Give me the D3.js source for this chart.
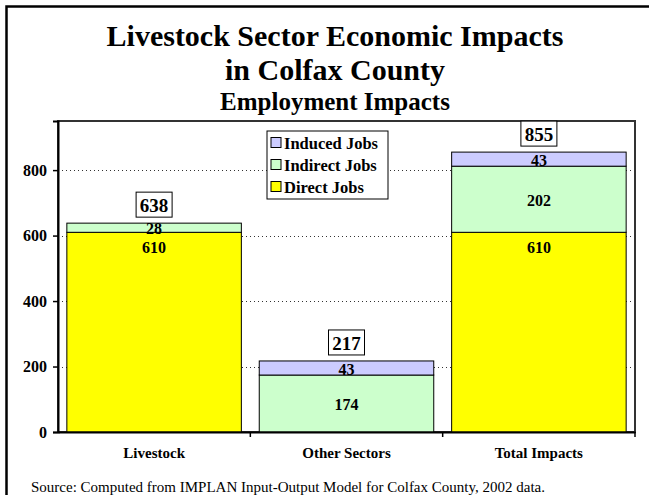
<!DOCTYPE html>
<html><head><meta charset="utf-8">
<script src="https://cdn.jsdelivr.net/npm/d3@7/dist/d3.min.js"></script>
<style>body{margin:0;background:#fff}svg{display:block}</style>
</head><body><svg id="c" width="649" height="495" font-family="Liberation Serif"></svg>
<script>
const categories = ["Livestock", "Other Sectors", "Total Impacts"];
const seriesNames = ["Direct Jobs", "Indirect Jobs", "Induced Jobs"];
const direct = [610, 0, 610];
const indirect = [28, 174, 202];
const induced = [0, 43, 43];
const totals = [638, 217, 855];
const yTicks = [0, 200, 400, 600, 800];
const colors = ["#FFFF00", "#CCFFCC", "#CCCCFF"];
const titleLines = ["Livestock Sector Economic Impacts", "in Colfax County"];
const subtitle = "Employment Impacts";
const source = "Source: Computed from IMPLAN Input-Output Model for Colfax County, 2002 data.";

const FF = "Liberation Serif";
const svg = d3.select("#c");
const M = {l: 58, r: 635, t: 121, b: 432};

// outer frame (right side runs past the page edge)
svg.append("rect").attr("x", 6.5).attr("y", 6.5).attr("width", 700).attr("height", 520)
  .attr("fill", "none").attr("stroke", "#000").attr("stroke-width", 2.5);

// titles
svg.append("text").attr("x", 335).attr("y", 46).attr("text-anchor", "middle").attr("font-family", FF)
  .attr("font-size", 30).attr("font-weight", "bold").text(titleLines[0]);
svg.append("text").attr("x", 335).attr("y", 80).attr("text-anchor", "middle").attr("font-family", FF)
  .attr("font-size", 30).attr("font-weight", "bold").text(titleLines[1]);
svg.append("text").attr("x", 335).attr("y", 110).attr("text-anchor", "middle").attr("font-family", FF)
  .attr("font-size", 25).attr("font-weight", "bold").text(subtitle);

const x = d3.scaleBand().domain(categories).range([M.l, M.r]).paddingInner(0.093).paddingOuter(0.046);
const xb = d3.scaleBand().domain(categories).range([M.l, M.r]);
const y = d3.scaleLinear().domain([0, 950]).range([M.b, M.t]);

// plot frame
svg.append("rect").attr("x", M.l).attr("y", M.t).attr("width", M.r - M.l).attr("height", M.b - M.t)
  .attr("fill", "none").attr("stroke", "#333").attr("stroke-width", 2);

// gridlines
svg.append("g").selectAll("line").data(yTicks.filter(d => d > 0)).join("line")
  .attr("x1", M.l).attr("x2", M.r).attr("y1", d => Math.round(y(d)) + 0.5).attr("y2", d => Math.round(y(d)) + 0.5)
  .attr("stroke", "#333").attr("stroke-width", 1).attr("stroke-dasharray", "1,3");

// stacked bars
const table = categories.map((c, i) => ({cat: c, "Direct Jobs": direct[i], "Indirect Jobs": indirect[i], "Induced Jobs": induced[i]}));
const stack = d3.stack().keys(seriesNames)(table);
const g = svg.append("g");
stack.forEach((s, si) => {
  s.forEach((d, i) => {
    const v = d[1] - d[0];
    if (v <= 0) return;
    g.append("rect").attr("x", x(categories[i])).attr("width", x.bandwidth())
      .attr("y", y(d[1])).attr("height", y(d[0]) - y(d[1]))
      .attr("fill", colors[si]).attr("stroke", "#000").attr("stroke-width", 1);
  });
});
// segment labels
stack.forEach((s, si) => {
  s.forEach((d, i) => {
    const v = d[1] - d[0];
    if (v <= 0) return;
    const cx = x(categories[i]) + x.bandwidth() / 2;
    const cy = si === 0 ? y(d[1]) + 15 : (y(d[0]) + y(d[1])) / 2 + 1;
    g.append("text").attr("x", cx).attr("y", cy).attr("dy", "0.35em").attr("text-anchor", "middle")
      .attr("font-family", FF).attr("font-size", 16).attr("font-weight", "bold").text(v);
  });
});

// totals boxes
categories.forEach((c, i) => {
  const cx = x(c) + x.bandwidth() / 2;
  const by = y(totals[i]) - 6;
  g.append("rect").attr("x", cx - 18).attr("y", by - 25).attr("width", 36).attr("height", 25)
    .attr("fill", "#fff").attr("stroke", "#000").attr("stroke-width", 1);
  g.append("text").attr("x", cx).attr("y", by - 12).attr("dy", "0.35em").attr("text-anchor", "middle")
    .attr("font-family", FF).attr("font-size", 19).attr("font-weight", "bold").text(totals[i]);
});

// y axis
const ya = svg.append("g").attr("transform", `translate(${M.l},0)`)
  .call(d3.axisLeft(y).tickValues(yTicks).tickSize(5).tickPadding(6));
ya.attr("font-family", FF);
ya.select(".domain").attr("stroke", "#000").attr("stroke-width", 2);
ya.selectAll(".tick line").attr("stroke", "#000").attr("stroke-width", 1.5);
ya.selectAll("text").attr("font-size", 16).attr("font-weight", "bold")
  .attr("font-family", FF).attr("fill", "#000");

// x axis
const xa = svg.append("g").attr("transform", `translate(0,${M.b})`)
  .call(d3.axisBottom(xb).tickSize(0).tickPadding(15));
xa.attr("font-family", FF);
xa.select(".domain").attr("stroke", "#000").attr("stroke-width", 2);
xa.selectAll("text").attr("font-size", 15).attr("font-weight", "bold")
  .attr("font-family", FF).attr("fill", "#000");
svg.append("g").selectAll("line").data(categories.slice(1).concat([null])).join("line")
  .attr("x1", (d, i) => i < 2 ? xb(d) : M.r).attr("x2", (d, i) => i < 2 ? xb(d) : M.r)
  .attr("y1", M.b).attr("y2", M.b + 5).attr("stroke", "#000").attr("stroke-width", 1.5);

// legend
const lg = svg.append("g");
lg.append("rect").attr("x", 267).attr("y", 131).attr("width", 121).attr("height", 68)
  .attr("fill", "#fff").attr("stroke", "#000").attr("stroke-width", 1);
const legOrder = [2, 1, 0];
legOrder.forEach((si, k) => {
  const ly = 143 + k * 22;
  lg.append("rect").attr("x", 271).attr("y", ly - 5.5).attr("width", 10).attr("height", 10)
    .attr("fill", colors[si]).attr("stroke", "#000").attr("stroke-width", 1);
  lg.append("text").attr("x", 284).attr("y", ly).attr("dy", "0.35em")
    .attr("font-family", FF).attr("font-size", 16.5).attr("font-weight", "bold").text(seriesNames[si]);
});

// source
svg.append("text").attr("x", 31).attr("y", 492).attr("font-family", FF).attr("font-size", 15).text(source);
</script></body></html>
